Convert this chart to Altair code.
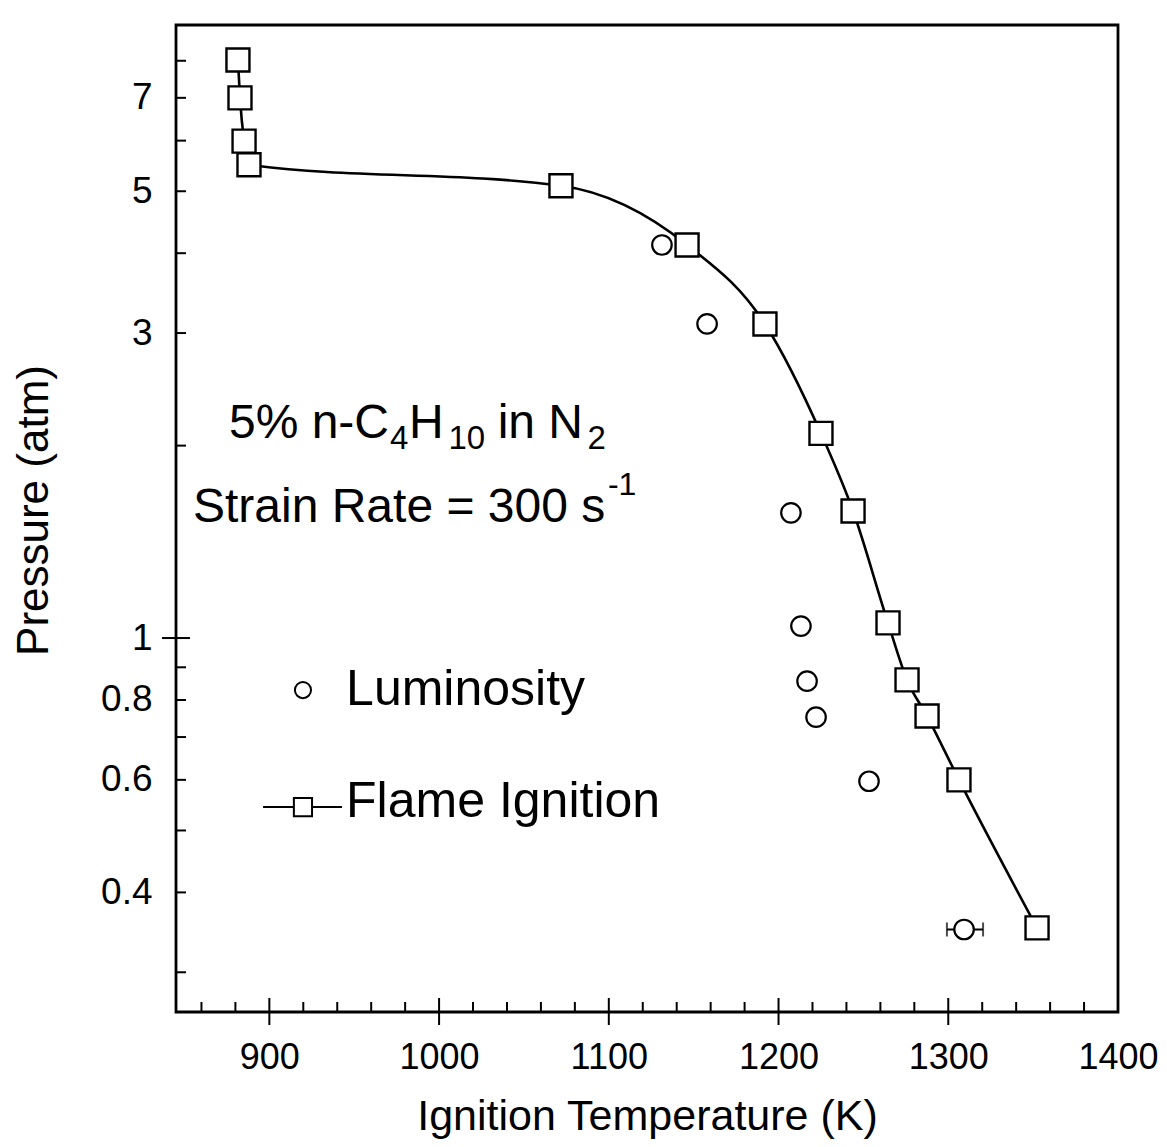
import altair as alt
import pandas as pd

# ---------------- data ----------------
flame_T = [881.5, 882.7, 885.1, 888.0, 1071.8, 1146.1, 1192.0, 1225.0,
           1243.9, 1264.5, 1275.7, 1287.5, 1306.3, 1352.3]
flame_P = [8.02, 7.00, 5.99, 5.50, 5.10, 4.12, 3.10, 2.09,
           1.58, 1.056, 0.860, 0.755, 0.600, 0.352]

lum_T = [1131.3, 1157.9, 1207.3, 1213.2, 1216.8, 1222.1, 1253.3, 1309.3]
lum_P = [4.12, 3.10, 1.57, 1.044, 0.856, 0.752, 0.597, 0.350]

err_T_lo = [1299.2]
err_T_hi = [1320.5]
err_P = [0.350]

x_tick_labels = [900, 1000, 1100, 1200, 1300, 1400]
y_tick_labels = [0.4, 0.6, 0.8, 1, 3, 5, 7]
x_minor = [860, 880, 920, 940, 960, 980, 1020, 1040, 1060, 1080, 1120, 1140,
           1160, 1180, 1220, 1240, 1260, 1280, 1320, 1340, 1360, 1380]
x_major = [900, 1000, 1100, 1200, 1300]
y_minor = [0.3, 0.4, 0.5, 0.6, 0.7, 0.8, 0.9, 2, 3, 4, 5, 6, 7, 8]
y_major = [1]

# annotation pieces (text, anchor T, anchor P, font size)
ann_text = ["5% n-C", "4", "H", "10", "in N", "2", "Strain Rate = 300 s", "-1"]
ann_T = [876.2, 971.1, 982.3, 1005.5, 1034.5, 1087.5, 855.0, 1099.5]
ann_P = [2.056, 1.975, 2.056, 1.975, 2.056, 1.975, 1.519, 1.674]
ann_fs = [48, 33, 48, 33, 48, 33, 48, 32]

# legend
leg_text = ["Luminosity", "Flame Ignition"]
leg_text_T = [945.2, 945.2]
leg_text_P = [0.786, 0.525]
leg_circle_T = [919.8]
leg_circle_P = [0.829]
leg_line_T = [896.3]
leg_line_T2 = [942.8]
leg_square_T = [919.8]
leg_P = [0.544]

# ---------------- chart ----------------
W, H = 942, 987
FONT = "Liberation Sans"
xs = alt.Scale(domain=[845, 1400], nice=False, zero=False)
ys = alt.Scale(type="log", domain=[0.26, 9.1], nice=False)

flame = pd.DataFrame({"T": flame_T, "P": flame_P})
lum = pd.DataFrame({"T": lum_T, "P": lum_P})
err = pd.DataFrame({"T": err_T_lo, "T2": err_T_hi, "P": err_P})
ann = pd.DataFrame({"T": ann_T, "P": ann_P, "t": ann_text, "fs": ann_fs})
leg = pd.DataFrame({"T": leg_text_T, "P": leg_text_P, "t": leg_text})

x_axis = alt.Axis(values=x_tick_labels, format="d", title="Ignition Temperature (K)",
                  ticks=False, tickSize=0, domain=False, grid=False,
                  labelFontSize=36, labelPadding=56, labelBaseline="alphabetic",
                  labelFlush=False, labelOverlap=False, labelColor="black",
                  labelFont=FONT, titleFont=FONT,
                  titleFontSize=43, titleFontWeight="normal", titleColor="black",
                  titleY=117, titleBaseline="alphabetic")
y_axis = alt.Axis(values=y_tick_labels, format="~g", title="Pressure (atm)",
                  ticks=False, tickSize=0, domain=False, grid=False,
                  labelFontSize=37, labelPadding=24, labelColor="black",
                  labelOverlap=False, labelFlush=False,
                  labelFont=FONT, titleFont=FONT,
                  titleFontSize=44, titleFontWeight="normal", titleColor="black",
                  titleX=-129, titleY=485, titleBaseline="alphabetic")


def X(field="T"):
    return alt.X(f"{field}:Q", scale=xs, axis=x_axis, title="Ignition Temperature (K)")


def Y(field="P"):
    return alt.Y(f"{field}:Q", scale=ys, axis=y_axis, title="Pressure (atm)")


line = alt.Chart(flame).mark_line(color="black", strokeWidth=2.6,
                                  interpolate="monotone").encode(x=X(), y=Y())

err_rule = alt.Chart(err).mark_rule(color="black", strokeWidth=2).encode(
    x=X(), x2="T2:Q", y=Y())
err_lo = alt.Chart(err).mark_tick(color="black", orient="vertical", size=14,
                                  thickness=2).encode(x=X(), y=Y())
err_hi = alt.Chart(err).mark_tick(color="black", orient="vertical", size=14,
                                  thickness=2).encode(x=X("T2"), y=Y())

circles = alt.Chart(lum).mark_point(shape="circle", size=380, filled=True,
                                    fill="white", stroke="black", strokeWidth=2.2,
                                    opacity=1).encode(x=X(), y=Y())
squares = alt.Chart(flame).mark_point(shape="square", size=529, filled=True,
                                      fill="white", stroke="black", strokeWidth=2.4,
                                      opacity=1).encode(x=X(), y=Y())

# inward ticks
ymin_t = alt.Chart(pd.DataFrame({"P": y_minor})).mark_rule(color="black", strokeWidth=2).encode(
    y=Y(), x=alt.value(0), x2=alt.value(10))
ymaj_t = alt.Chart(pd.DataFrame({"P": y_major})).mark_rule(color="black", strokeWidth=2).encode(
    y=Y(), x=alt.value(-14), x2=alt.value(14))
xmin_t = alt.Chart(pd.DataFrame({"T": x_minor})).mark_rule(color="black", strokeWidth=2).encode(
    x=X(), y=alt.value(H - 10), y2=alt.value(H))
xmaj_t = alt.Chart(pd.DataFrame({"T": x_major})).mark_rule(color="black", strokeWidth=2).encode(
    x=X(), y=alt.value(H - 14), y2=alt.value(H + 13))

ann_layer = alt.Chart(ann).mark_text(align="left", baseline="alphabetic", font=FONT,
                                     color="black").encode(
    x=X(), y=Y(), text="t:N", size=alt.Size("fs:Q", scale=None))

leg_txt = alt.Chart(leg).mark_text(align="left", baseline="alphabetic", font=FONT,
                                   fontSize=50, color="black").encode(
    x=X(), y=Y(), text="t:N")
leg_c = alt.Chart(pd.DataFrame({"T": leg_circle_T, "P": leg_circle_P})).mark_point(
    shape="circle", size=260, filled=True, fill="white", stroke="black",
    strokeWidth=2, opacity=1).encode(x=X(), y=Y())
leg_l = alt.Chart(pd.DataFrame({"T": leg_line_T, "T2": leg_line_T2, "P": leg_P})).mark_rule(
    color="black", strokeWidth=2).encode(x=X(), x2="T2:Q", y=Y())
leg_s = alt.Chart(pd.DataFrame({"T": leg_square_T, "P": leg_P})).mark_point(
    shape="square", size=330, filled=True, fill="white", stroke="black",
    strokeWidth=2, opacity=1).encode(x=X(), y=Y())

chart = alt.layer(
    line, err_rule, err_lo, err_hi, circles, squares,
    ymin_t, ymaj_t, xmin_t, xmaj_t,
    ann_layer, leg_l, leg_c, leg_s, leg_txt,
).properties(
    width=W, height=H,
    autosize=alt.AutoSizeParams(type="none"),
    padding={"left": 168, "top": 17, "right": 41, "bottom": 130},
).configure(
    font=FONT, background="white"
).configure_view(
    stroke="black", strokeWidth=2.8
)

chart.save("out.html", embed_options={"renderer": "svg", "actions": False})
